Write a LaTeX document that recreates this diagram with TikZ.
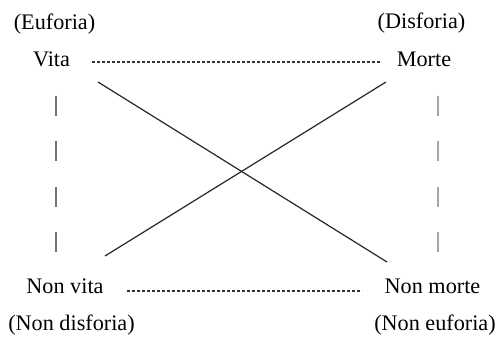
\documentclass[tikz,border=0pt]{standalone}
\usepackage{fontspec}
\setmainfont{Liberation Serif}
\begin{document}
\begin{tikzpicture}[x=1pt,y=-1pt,
  lbl/.style={inner sep=0pt,anchor=base,font=\fontsize{22.2}{26}\selectfont},
  hdash/.style={draw=black!80,line width=1.2pt,dash pattern=on 3.2pt off 1.8pt},
  vdashL/.style={draw=black!55,line width=1.4pt,dash pattern=on 20pt off 25.5pt},
  vdashR/.style={draw=black!35,line width=1.4pt,dash pattern=on 20pt off 25.5pt},
  diag/.style={draw=black!85,line width=1.2pt}]
\useasboundingbox (0,0) rectangle (496,344);
\node[lbl] (eu) at (54.5,29.5) {(Euforia)};
\node[lbl] (vita) at (51.5,67) {Vita};
\node[lbl] (dis) at (421.5,29) {(Disforia)};
\node[lbl] (morte) at (424,66.5) {Morte};
\node[lbl] (nvita) at (65,294) {Non vita};
\node[lbl] (nmorte) at (432.5,294) {Non morte};
\node[lbl] (ndis) at (71.5,331) {(Non disforia)};
\node[lbl] (neu) at (435,331) {(Non euforia)};
% endpoints
\coordinate (t1) at (92,62);
\coordinate (t2) at (381,62);
\coordinate (b1) at (127,291);
\coordinate (b2) at (362,291);
\coordinate (l1) at (56,96);
\coordinate (l2) at (56,252);
\coordinate (r1) at (438,96);
\coordinate (r2) at (438,252);
\coordinate (d1a) at (98,82);
\coordinate (d1b) at (387,262);
\coordinate (d2a) at (386,82);
\coordinate (d2b) at (105,256);
\draw[hdash] (t1) -- (t2);
\draw[hdash] (b1) -- (b2);
\draw[vdashL] (l1) -- (l2);
\draw[vdashR] (r1) -- (r2);
\draw[diag] (d1a) -- (d1b);
\draw[diag] (d2a) -- (d2b);
\end{tikzpicture}
\end{document}
